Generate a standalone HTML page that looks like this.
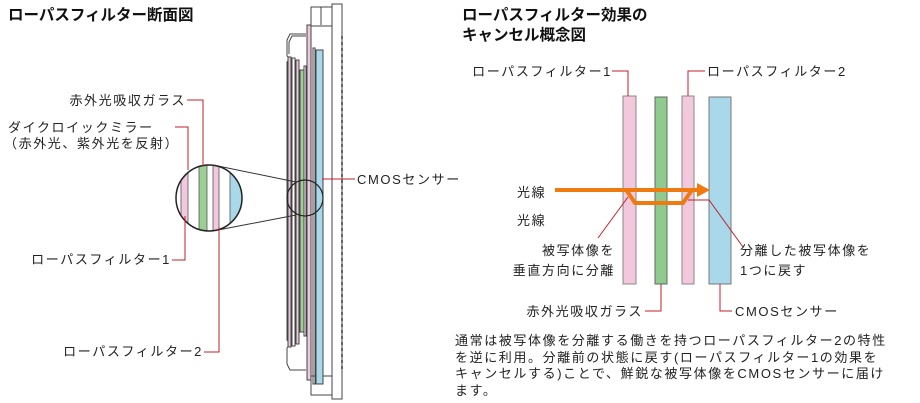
<!DOCTYPE html>
<html><head><meta charset="utf-8"><style>
body{margin:0;width:920px;height:403px;background:#fff;overflow:hidden;font-family:"Liberation Sans","Noto Sans CJK JP",sans-serif;}
.t{position:absolute;white-space:nowrap;color:#222;font-size:13px;line-height:15px;letter-spacing:1.6px}
.r{text-align:right}
.h{position:absolute;font-weight:bold;font-size:15.5px;line-height:20px;color:#111}
</style></head><body>
<div class="h" style="left:8px;top:6px">ローパスフィルター断面図</div>
<div class="h" style="left:462px;top:6px">ローパスフィルター効果の<br>キャンセル概念図</div>
<svg width="920" height="403" style="position:absolute;left:0;top:0">
<g stroke="#444" stroke-width="1" fill="none">
<rect x="332" y="4" width="10" height="395" fill="#fff"/>
<rect x="311" y="7" width="21" height="388" fill="#fff"/>
<line x1="321" y1="7" x2="321" y2="25"/><line x1="311" y1="26" x2="332" y2="26"/>
<line x1="311" y1="376" x2="332" y2="376"/>
<rect x="307" y="25" width="4" height="355" fill="#f0c8dc"/>
<rect x="313" y="48" width="2" height="336" />
<rect x="316" y="50" width="7" height="334" fill="#a9d8ea"/>
<path d="M306 34 H290 L287 40 V56 L290 58 L287 62 V340 L290 344 L287 348 V364 L290 370 H306"/>
<path d="M306 36 H292 L289 42 V54"/>
<rect x="288" y="57" width="3" height="290" fill="#e8c8d8"/>
<rect x="292" y="58" width="3" height="288" fill="#fff"/>
<rect x="296" y="60" width="3" height="284" fill="#e8c8d8"/>
<rect x="300" y="70" width="4" height="262" fill="#9ccf94"/>
<rect x="304" y="66" width="2" height="270" fill="#fff"/>
</g>
<g fill="none" stroke="#666" stroke-width="1">
<path d="M342 36 V370" stroke-dasharray="3 3" stroke-width="2"/>
</g>
<circle cx="305" cy="198" r="18" fill="none" stroke="#222" stroke-width="1.2"/>
<line x1="218" y1="166" x2="296" y2="182" stroke="#333"/>
<line x1="218" y1="230" x2="296" y2="215" stroke="#333"/>
<clipPath id="c"><circle cx="209" cy="198" r="33"/></clipPath>
<g clip-path="url(#c)">
<rect x="170" y="160" width="80" height="80" fill="#fff"/>
<rect x="181" y="160" width="7" height="80" fill="#f2c8dc" stroke="#555" stroke-width=".8"/>
<rect x="199" y="160" width="8" height="80" fill="#9ccf94" stroke="#555" stroke-width=".8"/>
<rect x="213" y="160" width="6" height="80" fill="#f2c8dc" stroke="#555" stroke-width=".8"/>
<rect x="230" y="160" width="12" height="80" fill="#a9d8ea" stroke="#555" stroke-width=".8"/>
</g>
<circle cx="209" cy="198" r="33" fill="none" stroke="#222" stroke-width="1.5"/>
<g stroke="#c0202a" stroke-width="1" fill="none">
<path d="M187 100 H203 V166"/>
<path d="M175 127 H188 V170"/>
<path d="M172 260 H185 V216"/>
<path d="M204 352 H219 V227"/>
<path d="M322 179 H355"/>
</g>
<rect x="623" y="96" width="13" height="188" fill="#f2c8dc" stroke="#888"/>
<rect x="655" y="97" width="12" height="187" fill="#8fcb8e" stroke="#666"/>
<rect x="682" y="96" width="12" height="188" fill="#f2c8dc" stroke="#888"/>
<rect x="709" y="97" width="22" height="187" fill="#a9d8ea" stroke="#777"/>
<g stroke="#c0202a" stroke-width="1" fill="none">
<path d="M612 71 H628 V96"/>
<path d="M705 71 H688 V96"/>
<path d="M661 284 V311 H645"/>
<path d="M720 284 V311 H732"/>
<path d="M628 197 L598 238"/>
<path d="M688 200 H709 L743 247"/>
</g>
<g stroke="#ee7a10" stroke-width="4" fill="none">
<line x1="555" y1="190" x2="700" y2="190"/>
<path d="M627 191 L635 203 H683 L692 190"/>
</g>
<polygon points="697,183 710,190 697,197" fill="#ee7a10"/>
</svg>
<div class="t r" style="right:734px;top:93px">赤外光吸収ガラス</div>
<div class="t" style="left:8px;top:120px">ダイクロイックミラー</div>
<div class="t" style="left:4px;top:136px">（赤外光、紫外光を反射）</div>
<div class="t r" style="right:749px;top:252px">ローパスフィルター1</div>
<div class="t r" style="right:717px;top:344px">ローパスフィルター2</div>
<div class="t" style="left:357px;top:172px">CMOSセンサー</div>
<div class="t r" style="right:308px;top:64px">ローパスフィルター1</div>
<div class="t" style="left:707px;top:64px">ローパスフィルター2</div>
<div class="t" style="left:517px;top:185px">光線</div>
<div class="t" style="left:517px;top:213px">光線</div>
<div class="t r" style="right:305px;top:243px">被写体像を</div>
<div class="t r" style="right:305px;top:263px">垂直方向に分離</div>
<div class="t" style="left:740px;top:243px">分離した被写体像を</div>
<div class="t" style="left:740px;top:263px">1つに戻す</div>
<div class="t r" style="right:277px;top:304px">赤外光吸収ガラス</div>
<div class="t" style="left:735px;top:304px">CMOSセンサー</div>
<div class="t" style="left:455px;top:333px;line-height:16.5px">通常は被写体像を分離する働きを持つローパスフィルター2の特性<br>を逆に利用。分離前の状態に戻す(ローパスフィルター1の効果を<br>キャンセルする)ことで、鮮鋭な被写体像をCMOSセンサーに届け<br>ます。</div>
</body></html>
